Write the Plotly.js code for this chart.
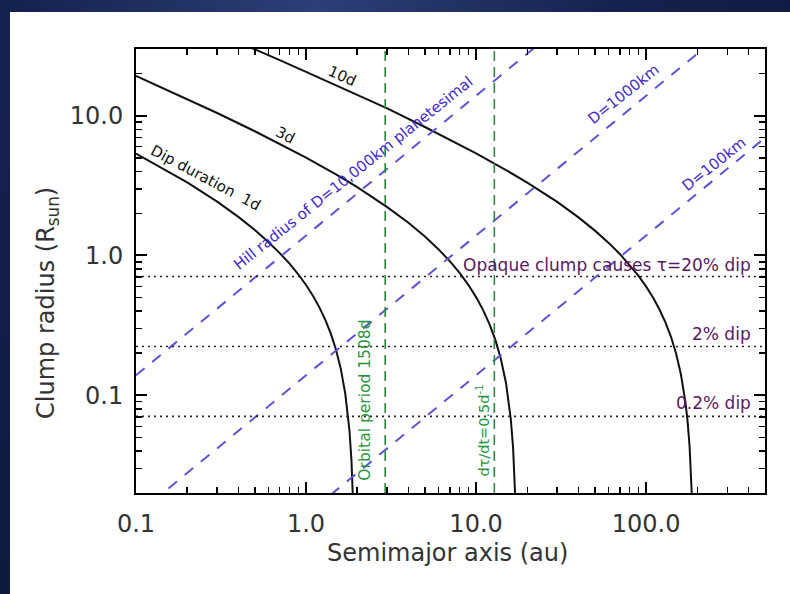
<!DOCTYPE html>
<html>
<head>
<meta charset="utf-8">
<script src="https://cdn.plot.ly/plotly-3.0.1.min.js"></script>
<style>
  html, body { margin: 0; padding: 0; width: 790px; height: 594px; overflow: hidden; }
  body { background: radial-gradient(ellipse at 40% 0%, #2c3f78 0%, #14224e 45%, #0b1636 100%); }
  #plot { position: absolute; left: 10px; top: 12px; width: 780px; height: 582px; background: #ffffff; }
</style>
</head>
<body>
<div id="plot"></div>
<script>
// ---- Data ----
// Dip duration curves (semimajor axis in au, clump radius in R_sun)
const dur1dA = [0.1, 0.15, 0.2, 0.3, 0.4, 0.5, 0.6, 0.7, 0.8, 0.9, 1.0, 1.1, 1.2, 1.3, 1.4, 1.5, 1.6, 1.7, 1.75, 1.8, 1.85, 1.88, 1.89];
const dur1dR = [5.36, 4.09, 3.33, 2.43, 1.89, 1.52, 1.25, 1.04, 0.874, 0.734, 0.615, 0.513, 0.424, 0.345, 0.275, 0.212, 0.155, 0.103, 0.079, 0.056, 0.034, 0.021, 0.017];
const dur3dA = [0.1, 0.2, 0.3, 0.5, 0.7, 1.0, 1.5, 2, 3, 4, 5, 6, 7, 8, 9, 10, 11, 12, 13, 14, 15, 16, 16.5, 16.8, 17.0];
const dur3dR = [19.26, 13.16, 10.45, 7.74, 6.30, 5.01, 3.80, 3.08, 2.22, 1.715, 1.367, 1.110, 0.911, 0.750, 0.617, 0.504, 0.407, 0.322, 0.248, 0.181, 0.122, 0.0675, 0.0423, 0.0278, 0.0183];
const dur10dA = [0.4, 0.5, 0.7, 1, 1.5, 2, 3, 5, 7, 10, 15, 20, 30, 40, 50, 60, 70, 80, 90, 100, 110, 120, 130, 140, 150, 160, 170, 175, 180, 185, 186];
const dur10dR = [33.5, 29.9, 25.0, 20.6, 16.5, 14.1, 11.3, 8.3, 6.75, 5.38, 4.08, 3.32, 2.42, 1.874, 1.506, 1.236, 1.026, 0.857, 0.718, 0.599, 0.498, 0.409, 0.331, 0.262, 0.199, 0.142, 0.0905, 0.0664, 0.0434, 0.0213, 0.017];

// Hill radius lines (straight in log-log)
const hillA = [0.1, 500];
const hill10000R = [0.139, 695];
const hill1000R = [0.0139, 69.5];
const hill100R = [0.00139, 6.95];

// Vertical reference lines (au)
const orbitalPeriodA = 2.92;
const dtauA = 12.8;
// Horizontal dip-depth lines (R_sun)
const dip20R = 0.707;
const dip2R = 0.2235;
const dip02R = 0.0707;

// Axes
const xRange = [0.1, 500];
const yRange = [0.02, 30];
const xTickAlias = {'0.1': '0.1', '1': '1.0', '10': '10.0', '100': '100.0'};
const yTickAlias = {'0.1': '0.1', '1': '1.0', '10': '10.0'};

// ---- Styles ----
const FONT = 'DejaVu Sans, Verdana, sans-serif';
const blue = 'rgb(92,84,214)';
const blueText = 'rgb(62,40,205)';
const green = 'rgb(40,140,60)';
const greenText = 'rgb(40,150,60)';
const purpleText = 'rgb(90,25,100)';
const L = Math.log10;

const traces = [];
function curve(a, r) {
  traces.push({x: a, y: r, mode: 'lines', line: {color: '#111', width: 2}, showlegend: false});
}
curve(dur1dA, dur1dR);
curve(dur3dA, dur3dR);
curve(dur10dA, dur10dR);
[hill10000R, hill1000R, hill100R].forEach(r => traces.push({
  x: hillA, y: r, mode: 'lines', line: {color: blue, width: 2, dash: '11px,10px'}, showlegend: false
}));
[orbitalPeriodA, dtauA].forEach(a => traces.push({
  x: [a, a], y: yRange, mode: 'lines', line: {color: green, width: 1.6, dash: '10px,6px'}, showlegend: false
}));
[dip20R, dip2R, dip02R].forEach(r => traces.push({
  x: xRange, y: [r, r], mode: 'lines', line: {color: '#222', width: 1.6, dash: '2px,4px'}, showlegend: false
}));

function ann(text, a, r, opts) {
  return Object.assign({
    text: text, x: L(a), y: L(r), xref: 'x', yref: 'y', showarrow: false,
    font: {family: FONT, size: 15, color: '#111'}, xanchor: 'center', yanchor: 'middle'
  }, opts || {});
}
const annotations = [
  ann('10d', 1.63, 19.3, {textangle: 24}),
  ann('3d', 0.752, 7.32, {textangle: 27}),
  ann('Dip duration  1d', 0.258, 3.61, {textangle: 28}),
  ann('Hill radius of D=10,000km planetesimal', 1.9, 3.9, {textangle: -38.5, font: {family: FONT, size: 15, color: blueText}}),
  ann('D=1000km', 74, 14.2, {textangle: -38.5, font: {family: FONT, size: 15, color: blueText}}),
  ann('D=100km', 252, 4.5, {textangle: -38.5, font: {family: FONT, size: 15, color: blueText}}),
  ann('Opaque clump causes τ=20% dip', 425, 0.86, {xanchor: 'right', font: {family: FONT, size: 17, color: purpleText}}),
  ann('2% dip', 425, 0.273, {xanchor: 'right', font: {family: FONT, size: 17, color: purpleText}}),
  ann('0.2% dip', 425, 0.0877, {xanchor: 'right', font: {family: FONT, size: 17, color: purpleText}}),
  ann('Orbital period 1508d', 2.22, 0.093, {textangle: -90, font: {family: FONT, size: 15.5, color: greenText}}),
  ann('dτ/dt=0.5d<sup>-1</sup>', 11.0, 0.056, {textangle: -90, font: {family: FONT, size: 14.5, color: greenText}}),
  {text: 'Semimajor axis (au)', xref: 'paper', yref: 'paper', x: 0.496, y: -0.135, showarrow: false,
   xanchor: 'center', yanchor: 'middle', font: {family: FONT, size: 24, color: '#333'}},
  {text: 'Clump radius (R<sub>sun</sub>)', xref: 'paper', yref: 'paper', x: -0.14, y: 0.428, showarrow: false,
   textangle: -90, xanchor: 'center', yanchor: 'middle', font: {family: FONT, size: 24, color: '#333'}}
];

const axisCommon = {
  type: 'log', showgrid: false, zeroline: false, showline: true, linecolor: '#000', linewidth: 2,
  mirror: 'allticks', ticks: 'inside', ticklen: 11, tickwidth: 2, tickcolor: '#000',
  tickfont: {family: FONT, size: 24, color: '#333'},
  tickmode: 'linear', dtick: 1, tick0: 0,
  minor: {ticks: 'inside', dtick: 'D1', ticklen: 6, tickwidth: 1.5, tickcolor: '#000', showgrid: false}
};
const layout = {
  width: 780, height: 582,
  margin: {l: 126, r: 25, t: 37, b: 101},
  showlegend: false,
  xaxis: Object.assign({}, axisCommon, {range: [L(xRange[0]), L(xRange[1])], labelalias: xTickAlias, ticklabelstandoff: 8}),
  yaxis: Object.assign({}, axisCommon, {range: [L(yRange[0]), L(yRange[1])], labelalias: yTickAlias, ticklabelstandoff: 6}),
  annotations: annotations
};
Plotly.newPlot('plot', traces, layout, {staticPlot: true});
</script>
</body>
</html>
